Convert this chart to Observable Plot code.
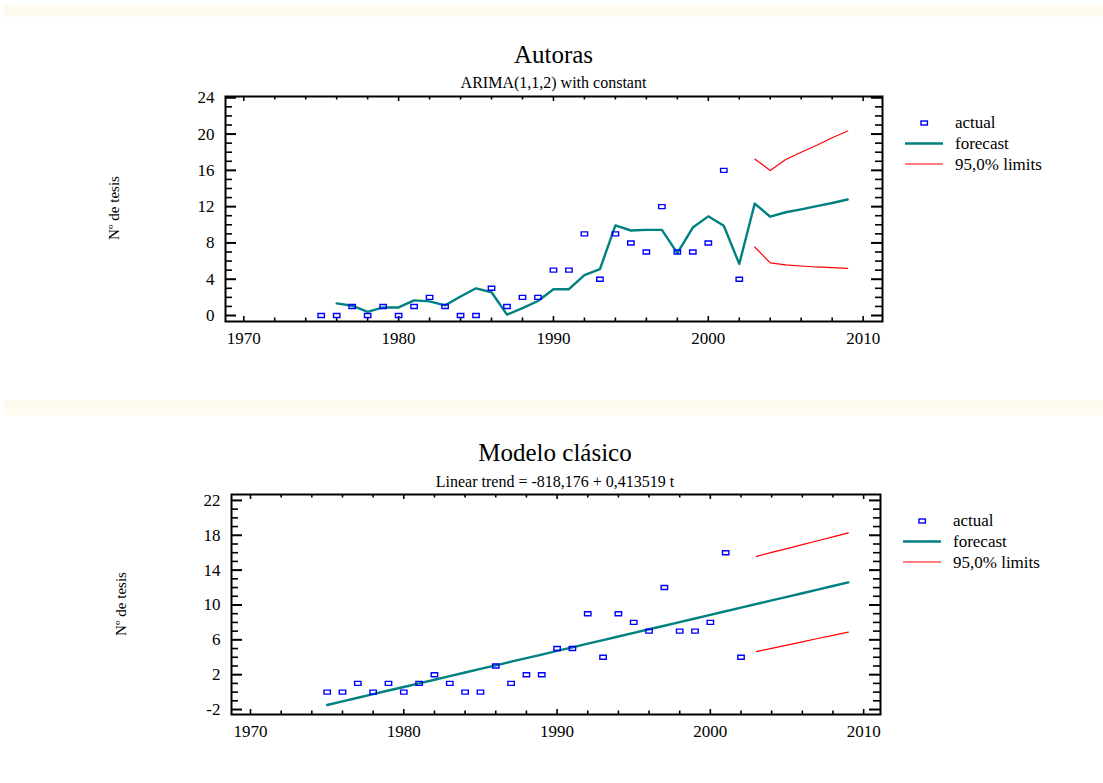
<!DOCTYPE html>
<html>
<head>
<meta charset="utf-8">
<script src="https://cdn.jsdelivr.net/npm/d3@7"></script>
<script src="https://cdn.jsdelivr.net/npm/@observablehq/plot@0.6"></script>
<style>
  html, body { margin: 0; padding: 0; background: #fff; }
  body { font-family: "Liberation Serif", "Times New Roman", serif; color: #000; }
  #root { position: relative; width: 1103px; height: 783px; overflow: hidden; background: #fff; }
  .band { position: absolute; left: 4px; right: 0; background: #fffaf0; }
  .ttl { position: absolute; line-height: 1; white-space: nowrap; transform: translateX(-50%); }
  .ylab { position: absolute; font-size: 15px; line-height: 1; white-space: nowrap; transform: translate(-50%, -50%) rotate(-90deg); }
  .chart { position: absolute; left: 0; }
  .legend { position: absolute; font-size: 17px; line-height: 1; }
  .legend .row { position: absolute; white-space: nowrap; }
  .legend svg { position: absolute; overflow: visible; }
</style>
</head>
<body>
<div id="root"></div>
<script>
// ---------- data ----------
const years = [1975,1976,1977,1978,1979,1980,1981,1982,1983,1984,1985,1986,1987,1988,
               1989,1990,1991,1992,1993,1994,1995,1996,1997,1998,1999,2000,2001,2002];
const actual = [0,0,1,0,1,0,1,2,1,0,0,3,1,2,2,5,5,9,4,9,8,7,12,7,7,8,16,4];

// ARIMA(1,1,2) one-step forecasts and forecasts beyond 2002
const arimaYears = [1976,1977,1978,1979,1980,1981,1982,1983,1984,1985,1986,1987,1988,1989,
                    1990,1991,1992,1993,1994,1995,1996,1997,1998,1999,2000,2001,2002,
                    2003,2004,2005,2006,2007,2008,2009];
const arimaForecast = [1.34,1.08,0.41,0.89,0.89,1.67,1.56,1.12,2.1,3.0,2.56,0.1,0.82,1.6,
                       2.9,2.9,4.46,5.1,9.93,9.37,9.44,9.44,6.88,9.7,10.93,9.89,5.69,
                       12.34,10.89,11.38,11.7,12.05,12.4,12.79];
const limitYears = [2003,2004,2005,2006,2007,2008,2009];
const arimaUpper = [17.25,15.99,17.2,17.99,18.77,19.6,20.33];
const arimaLower = [7.55,5.8,5.58,5.46,5.35,5.28,5.2];

// Linear trend model
const trendYears = [1975,1976,1977,1978,1979,1980,1981,1982,1983,1984,1985,1986,1987,1988,
                    1989,1990,1991,1992,1993,1994,1995,1996,1997,1998,1999,2000,2001,2002,
                    2003,2004,2005,2006,2007,2008,2009];
const trendForecast = [-1.48,-1.06,-0.65,-0.24,0.18,0.59,1.0,1.42,1.83,2.25,2.66,3.07,3.49,3.9,
                       4.31,4.73,5.14,5.56,5.97,6.38,6.8,7.21,7.62,8.04,8.45,8.87,9.28,9.69,
                       10.11,10.52,10.93,11.35,11.76,12.18,12.59];
const trendUpper = [15.58,16.03,16.47,16.92,17.37,17.82,18.27];
const trendLower = [4.65,5.02,5.4,5.77,6.15,6.52,6.88];

const xTickLabels = [1970,1980,1990,2000,2010];
const yTicksTop = [0,4,8,12,16,20,24];
const yTicksBottom = [-2,2,6,10,14,18,22];

const titles = [
  {title: "Autoras", subtitle: "ARIMA(1,1,2) with constant"},
  {title: "Modelo clásico", subtitle: "Linear trend = -818,176 + 0,413519 t"}
];
const legendLabels = ["actual", "forecast", "95,0% limits"];

// ---------- styling ----------
const BLUE = "#0000ff", TEAL = "#008080", RED = "#ff0000";
const FONT = "'Liberation Serif', 'Times New Roman', serif";

const rectSymbol = {
  draw(ctx) {
    ctx.moveTo(-3.2, -2); ctx.lineTo(3.2, -2); ctx.lineTo(3.2, 2); ctx.lineTo(-3.2, 2); ctx.closePath();
  }
};

const root = document.getElementById("root");

function el(tag, cls, style, text) {
  const e = document.createElement(tag);
  if (cls) e.className = cls;
  Object.assign(e.style, style || {});
  if (text != null) e.textContent = text;
  return e;
}

function makeChart(cfg) {
  const {xd, yd, yMajor, fw, fh, fx, fy, top, height, actualX, actualY, fcX, fcY, limX, up, lo} = cfg;
  const kx = fw / (xd[1] - xd[0]);
  const ky = fh / (yd[1] - yd[0]);
  const xMinor = d3.range(1970, 2011, 2).filter(v => v % 10 !== 0);
  const yMinor = d3.range(Math.ceil(yd[0]), Math.floor(yd[1]) + 1).filter(v => !yMajor.includes(v));
  const pts = actualX.map((x, i) => ({x, y: actualY[i]}));
  const fc = fcX.map((x, i) => ({x, y: fcY[i]}));
  const u = limX.map((x, i) => ({x, y: up[i]}));
  const l = limX.map((x, i) => ({x, y: lo[i]}));
  const tk = {stroke: "#000", strokeWidth: 1.6};
  const svg = Plot.plot({
    width: 1103,
    height,
    marginLeft: fx,
    marginRight: 1103 - fx - fw,
    marginTop: fy - top,
    marginBottom: height - (fy - top) - fh,
    style: {fontFamily: FONT, fontSize: "17px", color: "#000", background: "transparent", overflow: "visible"},
    x: {domain: xd, label: null},
    y: {domain: yd, label: null},
    marks: [
      // x ticks (inward) bottom & top
      Plot.ruleX(xTickLabels, {x: d => d, y1: yd[0], y2: yd[0] + 5 / ky, ...tk}),
      Plot.ruleX(xMinor, {x: d => d, y1: yd[0], y2: yd[0] + 3.5 / ky, ...tk}),
      Plot.ruleX(xTickLabels, {x: d => d, y1: yd[1], y2: yd[1] - 5 / ky, ...tk}),
      Plot.ruleX(xMinor, {x: d => d, y1: yd[1], y2: yd[1] - 3.5 / ky, ...tk}),
      // y ticks (inward) left & right
      Plot.ruleY(yMajor, {y: d => d, x1: xd[0], x2: xd[0] + 11 / kx, ...tk, strokeWidth: 2}),
      Plot.ruleY(yMinor, {y: d => d, x1: xd[0], x2: xd[0] + 7 / kx, ...tk}),
      Plot.ruleY(yMajor, {y: d => d, x1: xd[1], x2: xd[1] - 11 / kx, ...tk, strokeWidth: 2}),
      Plot.ruleY(yMinor, {y: d => d, x1: xd[1], x2: xd[1] - 7 / kx, ...tk}),
      // tick labels
      Plot.axisX({ticks: xTickLabels, tickSize: 0, tickPadding: 10, tickFormat: d => String(d), fontSize: 17, label: null}),
      Plot.axisY({ticks: yMajor, tickSize: 0, tickPadding: 11, tickFormat: d => String(d), fontSize: 17, label: null}),
      // data
      Plot.line(u, {x: "x", y: "y", stroke: RED, strokeWidth: 1.2}),
      Plot.line(l, {x: "x", y: "y", stroke: RED, strokeWidth: 1.2}),
      Plot.line(fc, {x: "x", y: "y", stroke: TEAL, strokeWidth: 2.4}),
      Plot.dot(pts, {x: "x", y: "y", symbol: rectSymbol, stroke: BLUE, strokeWidth: 1.4, fill: "none"}),
      Plot.frame({stroke: "#000", strokeWidth: 2})
    ]
  });
  const wrap = el("div", "chart", {top: top + "px"});
  wrap.appendChild(svg);
  root.appendChild(wrap);
}

function addLegend(x0, y0) {
  // x0: left of line samples, y0: centre of first row
  const lg = el("div", "legend", {left: "0px", top: "0px"});
  const ns = "http://www.w3.org/2000/svg";
  const s = document.createElementNS(ns, "svg");
  s.setAttribute("width", 1103); s.setAttribute("height", 783);
  s.style.left = "0px"; s.style.top = "0px";
  const r = document.createElementNS(ns, "rect");
  r.setAttribute("x", x0 + 16); r.setAttribute("y", y0 - 2);
  r.setAttribute("width", 6.4); r.setAttribute("height", 4);
  r.setAttribute("fill", "none"); r.setAttribute("stroke", BLUE); r.setAttribute("stroke-width", 1.4);
  s.appendChild(r);
  [[TEAL, 2.4, 20.5], [RED, 1.2, 41]].forEach(([c, w, dy]) => {
    const ln = document.createElementNS(ns, "line");
    ln.setAttribute("x1", x0); ln.setAttribute("x2", x0 + 38);
    ln.setAttribute("y1", y0 + dy); ln.setAttribute("y2", y0 + dy);
    ln.setAttribute("stroke", c); ln.setAttribute("stroke-width", w);
    s.appendChild(ln);
  });
  lg.appendChild(s);
  legendLabels.forEach((t, i) => {
    lg.appendChild(el("div", "row", {left: (x0 + 50) + "px", top: (y0 - 9 + i * 21) + "px"}, t));
  });
  root.appendChild(lg);
}

// background bands
root.appendChild(el("div", "band", {top: "5px", height: "12px"}));
root.appendChild(el("div", "band", {top: "400px", height: "15px"}));

// titles
function addTitles(i, cx, tBase, sBase) {
  root.appendChild(el("div", "ttl", {left: cx + "px", top: (tBase - 0.8375 * 25) + "px", fontSize: "25px"}, titles[i].title));
  root.appendChild(el("div", "ttl", {left: cx + "px", top: (sBase - 0.8375 * 16) + "px", fontSize: "16px"}, titles[i].subtitle));
}
addTitles(0, 553.5, 62.5, 88);
addTitles(1, 555, 461, 487);

root.appendChild(el("div", "ylab", {left: "114px", top: "208px"}, "Nº de tesis"));
root.appendChild(el("div", "ylab", {left: "121px", top: "604px"}, "Nº de tesis"));

makeChart({
  xd: [1968.82, 2011.25], yd: [-0.66, 24.14], yMajor: yTicksTop,
  fx: 225, fy: 96, fw: 657, fh: 225, top: 85, height: 270,
  actualX: years, actualY: actual, fcX: arimaYears, fcY: arimaForecast,
  limX: limitYears, up: arimaUpper, lo: arimaLower
});
makeChart({
  xd: [1968.76, 2011.1], yd: [-2.57, 22.68], yMajor: yTicksBottom,
  fx: 231, fy: 494, fw: 649, fh: 220, top: 483, height: 270,
  actualX: years, actualY: actual, fcX: trendYears, fcY: trendForecast,
  limX: limitYears, up: trendUpper, lo: trendLower
});

addLegend(905, 123);
addLegend(903, 521);
</script>
</body>
</html>
